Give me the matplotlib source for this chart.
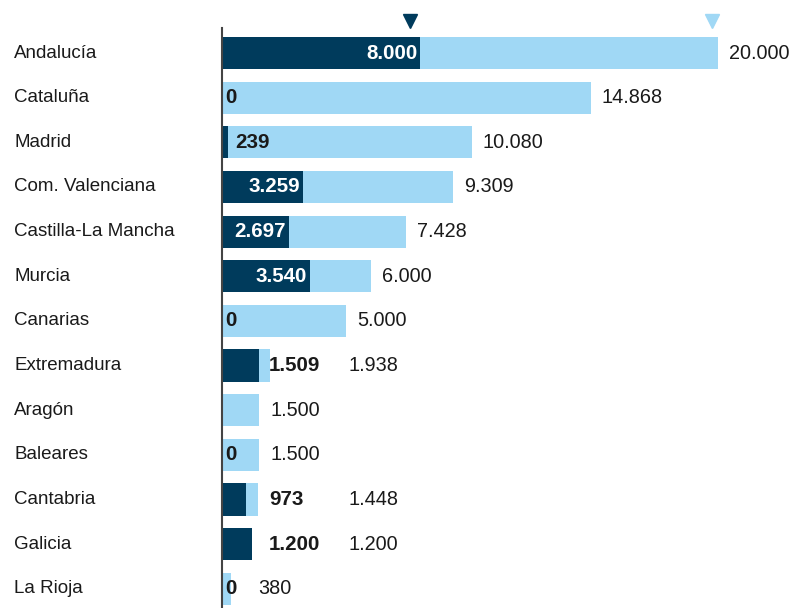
import matplotlib
matplotlib.use("Agg")
import matplotlib.pyplot as plt
import matplotlib.transforms as mtransforms

regiones = ["Andalucía", "Cataluña", "Madrid", "Com. Valenciana",
            "Castilla-La Mancha", "Murcia", "Canarias", "Extremadura",
            "Aragón", "Baleares", "Cantabria", "Galicia", "La Rioja"]
# capacidad total (barra clara) y en funcionamiento (barra oscura)
total = [20000, 14868, 10080, 9309, 7428, 6000, 5000, 1938, 1500, 1500, 1448, 1200, 380]
activa = [8000, 0, 239, 3259, 2697, 3540, 0, 1509, None, 0, 973, 1200, 0]

OSCURO = "#003b5c"
CLARO = "#a0d8f5"
TEXTO = "#1a1a1a"

def fmt(v):
    return f"{v:,}".replace(",", ".")

plt.rcParams["font.family"] = ["Liberation Sans", "DejaVu Sans"]

W, H = 792, 608
fig = plt.figure(figsize=(W / 100, H / 100), dpi=100)
# eje en pixeles: x=0 en 222 px, 20000 en 718 px; de 28 px a 608 px en vertical
ax = fig.add_axes([222 / W, 0, 496 / W, (H - 28) / H])
ax.set_xlim(0, 20000)
ax.set_ylim(12.43, -0.56)

n = len(regiones)
ys = list(range(n))
ax.barh(ys, total, height=0.72, color=CLARO, zorder=1)
ax.barh([y for y, v in zip(ys, activa) if v],
        [v for v in activa if v], height=0.72, color=OSCURO, zorder=2)

for side in ["top", "right", "bottom"]:
    ax.spines[side].set_visible(False)
ax.spines["left"].set_color("#444444")
ax.spines["left"].set_linewidth(1.5)
ax.spines["left"].set_zorder(3)
ax.set_xticks([])
ax.set_yticks([])

fs = 13.5      # nombres de region
fs_val = 14.3  # capacidad total
fs_neg = 14.8  # capacidad en funcionamiento (negrita)
to_px = ax.transData
from_px = ax.transData.inverted()
izq = mtransforms.blended_transform_factory(fig.transFigure, ax.transData)

def desplaza(dx):
    return ax.transData + mtransforms.ScaledTranslation(dx / 100, 0, fig.dpi_scale_trans)

for y, r in zip(ys, regiones):
    fig.text(14 / W, y, r, fontsize=fs, color=TEXTO, va="center", ha="left",
             transform=izq)

# etiquetas de la capacidad en funcionamiento
etiquetas = []
for y, v, tot in zip(ys, activa, total):
    if v is None:
        etiquetas.append(None)
    elif v >= 2500:
        ax.text(v, y, fmt(v), color="white", fontsize=fs_neg, fontweight="bold",
                va="center", ha="right", zorder=4, transform=desplaza(-3))
        etiquetas.append(None)
    elif v == 0:
        t = ax.text(0, y, "0", color=TEXTO, fontsize=fs_neg, fontweight="bold",
                    va="center", ha="left", zorder=4, transform=desplaza(3))
        etiquetas.append(("cero", t))
    else:
        x = v + 300 if tot > 5000 else max(v, 1600) + 300
        t = ax.text(x, y, fmt(v), color=TEXTO, fontsize=fs_neg, fontweight="bold",
                    va="center", ha="left", zorder=4)
        etiquetas.append(("fuera", t))

fig.canvas.draw()
renderer = fig.canvas.get_renderer()
columna = max(et[1].get_window_extent(renderer).x1 for et in etiquetas
              if et is not None and et[0] == "fuera") + 28

# etiquetas de la capacidad total
for y, v, et in zip(ys, total, etiquetas):
    xpx = to_px.transform((v, y))[0] + 11
    if et is not None:
        tipo, t = et
        if tipo == "cero":
            xpx = max(xpx, t.get_window_extent(renderer).x1 + 22)
        elif v < 5000:
            xpx = max(xpx, columna)
    x = from_px.transform((xpx, 0))[0]
    ax.text(x, y, fmt(v), color=TEXTO, fontsize=fs_val, va="center", ha="left", zorder=4)

# marcadores de maximo sobre las barras
ax.plot([8000], [-0.72], marker="v", markersize=10, color=OSCURO, clip_on=False,
        transform=desplaza(-10))
ax.plot([20000], [-0.72], marker="v", markersize=10, color=CLARO, clip_on=False,
        transform=desplaza(-6))

fig.savefig("out.png", dpi=100)
